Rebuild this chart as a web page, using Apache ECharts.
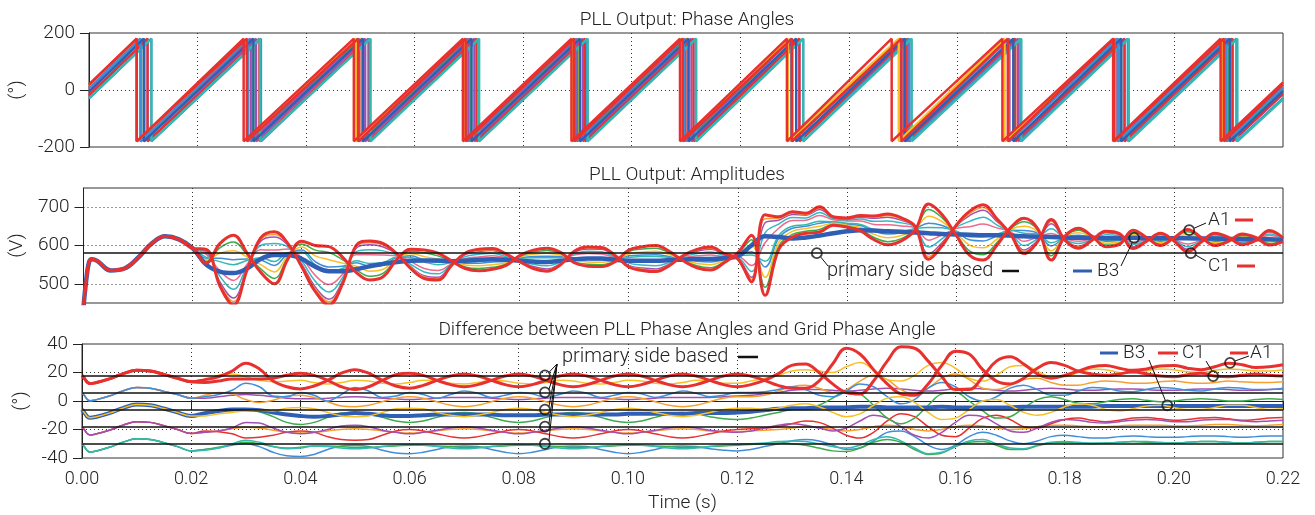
<!DOCTYPE html>
<html>
<head>
<meta charset="utf-8">
<title>PLL Output</title>
<script src="https://cdn.jsdelivr.net/npm/echarts@6/dist/echarts.min.js"></script>
<style>
  html, body { margin: 0; padding: 0; background: #fff; }
  #chart { width: 1315px; height: 515px; }
</style>
</head>
<body>
<div id="chart"></div>
<script>
// sample grid (s): a few extra points during the start-up, then every 2.5 ms
const times = [0, 0.0005, 0.001, 0.0015];
for (let i = 1; i <= 88; i++) times.push(+(i * 0.0025).toFixed(4));

// ---- PLL amplitudes (V) ----
// 0 .. 0.02 s: all lines on top of each other
const ampStart = [440, 510, 556, 564, 560, 535, 540, 568, 605, 624, 616, 593];
const ampA1 = [
  554, 605, 627, 580, 530, 500, 565, 611, 600, 597,
  570, 530, 510, 519, 564, 590, 588, 580, 560, 540,
  534, 538, 548, 574, 588, 593, 582, 555, 546, 545,
  558, 588, 597, 600, 584, 560, 542, 536, 555, 581,
  627, 470, 589, 622, 632, 635, 653, 648, 638, 615,
  602, 612, 640, 708, 680, 628, 575, 562, 600, 646,
  671, 644, 562, 624, 645, 624, 597, 603, 640, 621,
  600, 620, 642, 621, 600, 611, 630, 621, 601, 610];
const ampGreen = [
  558, 594, 609, 576, 539, 514, 569, 604, 588, 582,
  563, 537, 520, 528, 565, 585, 581, 573, 559, 544,
  540, 543, 551, 572, 583, 587, 579, 558, 551, 550,
  560, 584, 591, 593, 580, 561, 547, 542, 557, 579,
  615, 491, 598, 629, 637, 642, 655, 650, 642, 621,
  610, 618, 641, 694, 672, 630, 586, 576, 607, 644,
  662, 641, 573, 623, 640, 623, 601, 606, 635, 620,
  603, 619, 636, 620, 603, 612, 627, 620, 605, 611];
const ampOrange = [
  562, 580, 586, 570, 550, 531, 574, 596, 573, 563,
  554, 546, 533, 538, 567, 579, 571, 564, 557, 549,
  547, 550, 555, 570, 577, 580, 575, 562, 557, 556,
  562, 578, 583, 585, 576, 563, 553, 550, 560, 577,
  600, 517, 608, 637, 644, 650, 658, 653, 647, 629,
  620, 626, 642, 676, 662, 633, 601, 594, 616, 642,
  650, 636, 586, 622, 633, 622, 606, 609, 629, 619,
  607, 618, 629, 618, 607, 613, 624, 619, 610, 612];
const ampBlue = [
  567, 567, 563, 565, 562, 548, 579, 588, 558, 544,
  546, 555, 546, 549, 569, 573, 562, 556, 556, 554,
  554, 557, 559, 568, 571, 572, 571, 566, 564, 563,
  564, 573, 575, 576, 571, 565, 559, 557, 563, 575,
  584, 544, 619, 645, 650, 658, 661, 656, 652, 637,
  630, 633, 644, 658, 652, 636, 615, 612, 625, 640,
  639, 632, 599, 621, 627, 621, 611, 613, 623, 618,
  611, 617, 622, 617, 611, 615, 620, 618, 614, 614];
const ampTeal = [
  569, 558, 550, 561, 568, 558, 582, 583, 549, 532,
  540, 560, 553, 556, 570, 569, 557, 550, 555, 557,
  558, 561, 561, 567, 568, 568, 568, 568, 567, 566,
  565, 569, 571, 571, 569, 566, 562, 561, 565, 574,
  575, 559, 626, 650, 654, 663, 662, 658, 655, 641,
  636, 637, 644, 647, 646, 638, 623, 623, 630, 639,
  632, 630, 607, 620, 623, 620, 614, 615, 620, 617,
  614, 617, 617, 616, 614, 615, 618, 618, 617, 614];
const ampPink = [
  577, 534, 509, 551, 589, 588, 591, 568, 522, 498,
  525, 576, 576, 575, 573, 558, 540, 535, 552, 566,
  570, 573, 568, 564, 557, 554, 561, 575, 579, 578,
  568, 559, 557, 556, 561, 569, 573, 575, 571, 571,
  548, 607, 645, 665, 666, 678, 667, 664, 664, 655,
  654, 651, 647, 614, 628, 644, 649, 656, 646, 636,
  611, 622, 631, 618, 611, 618, 623, 621, 609, 615,
  621, 615, 604, 613, 621, 618, 612, 616, 626, 617];
const ampCyan = [
  582, 520, 486, 546, 600, 605, 596, 560, 507, 479,
  516, 584, 589, 586, 575, 551, 531, 526, 551, 571,
  577, 580, 571, 562, 551, 547, 557, 578, 585, 584,
  570, 554, 549, 547, 556, 571, 579, 583, 574, 569,
  532, 633, 656, 673, 672, 686, 670, 667, 669, 663,
  664, 659, 648, 596, 618, 647, 663, 674, 654, 634,
  600, 618, 644, 616, 605, 616, 628, 625, 603, 613,
  625, 614, 597, 612, 625, 619, 608, 615, 630, 618];
const ampPurple = [
  586, 506, 463, 540, 611, 622, 601, 552, 492, 460,
  507, 593, 602, 596, 577, 545, 521, 517, 549, 576,
  584, 587, 575, 560, 545, 539, 553, 582, 591, 590,
  572, 548, 541, 539, 552, 573, 585, 590, 577, 567,
  517, 659, 666, 681, 679, 694, 673, 670, 674, 671,
  674, 666, 649, 578, 608, 650, 678, 692, 663, 632,
  588, 613, 657, 615, 598, 615, 633, 628, 597, 612,
  629, 613, 590, 610, 629, 620, 605, 614, 635, 619];
const ampYellowLow = [
  588, 500, 454, 538, 616, 629, 603, 548, 486, 453,
  504, 597, 607, 601, 577, 543, 518, 514, 549, 578,
  587, 589, 577, 559, 542, 536, 552, 584, 594, 593,
  573, 546, 538, 535, 550, 573, 588, 593, 578, 566,
  511, 670, 671, 685, 681, 698, 674, 671, 676, 674,
  678, 669, 650, 571, 604, 651, 683, 699, 667, 631,
  584, 612, 663, 615, 596, 615, 635, 630, 594, 612,
  630, 612, 587, 610, 630, 621, 603, 613, 637, 620];
const ampC1 = [
  590, 495, 445, 536, 620, 636, 605, 545, 480, 445,
  500, 600, 612, 605, 578, 540, 514, 510, 548, 580,
  590, 592, 578, 558, 540, 533, 550, 585, 596, 595,
  574, 544, 535, 532, 548, 574, 590, 596, 579, 565,
  505, 680, 675, 688, 684, 701, 675, 672, 678, 677,
  682, 672, 650, 564, 600, 652, 689, 706, 670, 630,
  579, 610, 668, 614, 593, 614, 637, 631, 592, 611,
  632, 612, 584, 609, 632, 621, 602, 613, 639, 620];
const ampB3 = [
  550, 532, 528, 540, 565, 575, 575, 565, 545, 533,
  533, 538, 546, 552, 557, 560, 561, 561, 559, 560,
  563, 564, 563, 560, 558, 557, 560, 564, 566, 566,
  563, 560, 560, 560, 562, 563, 565, 565, 567, 572,
  600, 624, 622, 618, 621, 626, 632, 637, 640, 639,
  637, 636, 634, 632, 630, 629, 628, 627, 627, 626,
  624, 623, 622, 621, 620, 620, 619, 619, 620, 619,
  619, 619, 619, 618, 618, 617, 617, 616, 616, 614];

// ---- difference to grid phase angle (deg) ----
// 0 .. 0.02 s: the lines sit in five bundles
const difStart18 = [18, 15.5, 13, 12.2, 12.8, 15.5, 19, 21.5, 21, 18.7, 16, 13.5];
const difStart6 = [6, 3.5, 1, 0.2, 0.8, 3.5, 7, 9.5, 9, 6.7, 4.5, 2];
const difStartM6 = [-6, -8.5, -11, -11.8, -11.2, -8.5, -5, -2.5, -3, -5.3, -8, -10.5];
const difStartM18 = [-18, -20.5, -23, -23.8, -23.2, -20.5, -17, -14.5, -15, -17.3, -20, -22.8];
const difStartM30 = [-30, -32.5, -35, -35.8, -35.2, -32.5, -29, -26.5, -27, -29.3, -32, -35];
const difA1 = [
  15, 17, 21, 26.5, 22.5, 14, 10, 8.5, 10.5, 14.5,
  19.5, 22, 19.5, 14.5, 10.5, 9, 11, 14.5, 17.5, 19,
  17.5, 14.5, 11.5, 10, 11.5, 14.5, 17.5, 19, 17.5, 14.5,
  11.5, 10, 11.5, 14.5, 17.5, 19, 17.5, 14.5, 11.5, 10,
  11.5, 14.5, 19, 25, 26, 20, 12, 6, 5, 14,
  28, 38, 37, 28, 17, 8, 8, 17, 28, 31,
  26, 19, 16, 18, 21, 24, 25, 23, 21.5, 22.5,
  24.5, 25, 23, 22, 24, 26.5, 25.5, 23.5, 24, 25.5];
const difC1 = [
  13, 14, 15.5, 15.5, 15.5, 16, 18, 19.5, 18, 14.5,
  10, 8, 10, 14.5, 18.5, 19.5, 18, 14.5, 11.5, 10,
  11.5, 14.5, 17.5, 19, 17.5, 14.5, 11.5, 10, 11.5, 14.5,
  17.5, 19, 17.5, 14.5, 11.5, 10, 11.5, 14.5, 17.5, 19,
  17.5, 14.5, 11, 9, 9, 14, 26, 37, 33, 22,
  12, 5, 4, 12, 25, 35, 33, 22, 14, 12,
  16, 23, 27, 25, 21, 19, 18, 19, 20.5, 19,
  17.5, 17, 18.5, 19.5, 17.5, 17, 18, 19, 18, 17.5];
const difYellow18 = [
  15, 18, 19, 17, 14.5, 13.5, 14, 14.5, 13, 12,
  13, 14.5, 14, 12.5, 12, 13, 14.5, 14, 12.5, 12,
  13, 14.5, 14, 12.5, 12, 13, 14.5, 14, 12.5, 12,
  13, 14.5, 14, 12.5, 12, 13, 14.5, 14, 12.5, 12.5,
  14, 16, 18, 21, 22, 21, 20, 24, 27, 22,
  15, 14, 18, 25, 27, 23, 16, 14, 18, 24,
  25, 21, 17, 17, 20, 22.5, 22, 20, 19.5, 21,
  22.5, 22, 20.5, 20, 21.5, 22.5, 22, 21, 21, 22];
const difBlue6 = [
  3, 4.5, 7.5, 12.5, 10, 3.5, 3, 6, 4, 0,
  4.5, 9.5, 7, 2.5, 3.5, 6, 4.5, 2, 4.5, 7,
  5.5, 2.5, 4, 6, 5, 2.5, 4.5, 7, 5.5, 2.5,
  4, 6, 5, 2.5, 4.5, 7, 5.5, 3, 4, 6,
  6, 6.5, 8, 10, 8, 4, 3, 7, 12, 10,
  3, -2, 1, 9, 13, 10, 3, 0, 3, 9,
  11, 8, 4, 4, 7, 9.5, 9, 7, 6.5, 8,
  9.5, 9, 7.5, 7, 8.5, 9.5, 9, 8, 8, 9];
const difOrange6 = [
  4, 6, 5, 1, -1, 0.5, 3.5, 4, 2.5, -0.5,
  -3.5, -4, -3, -0.5, 2, 3, 2, -0.5, -3, -4,
  -3, -0.5, 2, 3, 2, -0.5, -3, -4, -3, -0.5,
  2, 3, 2, -0.5, -3, -4, -3, -0.5, 2, 3,
  3, 4, 7, 10, 11, 9, 6, 8, 14, 18,
  15, 8, 5, 9, 16, 19, 15, 9, 8, 11,
  15, 16, 13, 11, 11, 13, 14, 13.5, 12.5, 12.5,
  13.5, 14, 13, 12.5, 13, 14, 13.5, 13, 13, 13.5];
const difPurple6 = [
  2, 3, 4, 4.5, 4, 3, 2, 1.5, 1.5, 2,
  2.5, 3, 2.5, 2, 1.5, 1, 1.5, 2, 2.5, 2.5,
  2.5, 2, 1.5, 1, 1.5, 2, 2.5, 2.5, 2.5, 2,
  1.5, 1, 1.5, 2, 2.5, 2.5, 2.5, 2.5, 3, 3.5,
  4, 5, 6, 7.5, 8, 8, 7.5, 7, 7.5, 8.5,
  9, 8.5, 7.5, 7, 7.5, 8.5, 9, 8.5, 7.5, 7,
  7.5, 8.5, 9, 8.5, 7.5, 7.5, 8, 8.5, 8.5, 8,
  7.5, 7.5, 8, 8.5, 8.5, 8, 7.5, 7.5, 8, 8.5];
const difB3 = [
  -8.5, -7, -6, -6, -6.5, -8, -9.5, -10.5, -11, -10.5,
  -9.5, -8.5, -9, -10, -10.5, -10.5, -10, -9.5, -9.5, -9.5,
  -9.5, -9.5, -10, -10, -10, -9.5, -9.5, -9.5, -9.5, -9.5,
  -9.5, -9, -9, -9, -9, -9, -8.5, -8.5, -8.5, -8,
  -7.5, -6.5, -5.5, -5, -5, -4.5, -4.5, -4.5, -4, -4,
  -4.5, -4.5, -4.5, -4.5, -4, -4.5, -4.5, -4.5, -4.5, -4.5,
  -4, -4, -4, -4, -4, -4, -3.5, -3.5, -3.5, -3.5,
  -3.5, -3.5, -3.5, -3.5, -3.5, -3.5, -3.5, -3.5, -3.5, -3.5];
const difYellowM6 = [
  -10.5, -9, -8, -7, -6.5, -7, -5, -4.5, -5.5, -8,
  -10.5, -11, -10.5, -8, -5.5, -5, -5.5, -8, -10, -11,
  -10, -8, -6, -5, -6, -8, -10, -11, -10, -8,
  -6, -5, -6, -8, -10, -11, -10, -8, -6, -5,
  -5, -6, -5, -3, -2, -4, -8, -11, -9, -3,
  2, 3, -1, -8, -13, -12, -6, 0, 1, -3,
  -8, -10, -8, -4, -2, -3, -6, -7, -5.5, -3.5,
  -3, -4.5, -6, -6, -4.5, -3, -3, -4.5, -6, -5.5];
const difGreenM6 = [
  -9, -7, -5.5, -5.5, -7.5, -11, -15, -16.5, -15, -11.5,
  -8.5, -8, -9, -11.5, -14, -15, -14, -11.5, -9, -8,
  -9, -11.5, -14, -15, -14, -11.5, -9, -8, -9, -11.5,
  -14, -15, -14, -11.5, -9, -8, -9, -11, -12.5, -13,
  -12, -10, -8, -6, -5, -3, 2, 7, 5, -3,
  -12, -16, -12, -3, 5, 6, 0, -7, -12, -11,
  -5, 1, 3, 1, -1.5, -2, -0.5, 1, 1.5, 0.5,
  -0.5, 0, 1, 1.5, 1, 0, 0, 1, 1.5, 1];
const difPurpleM18 = [
  -22, -21, -19, -15, -15.5, -19, -22, -23, -22, -20,
  -17.5, -17, -18, -20.5, -22, -23, -22, -20.5, -19, -18,
  -19, -20.5, -22, -23, -22, -20.5, -19, -18, -19, -20.5,
  -22, -23, -22, -20.5, -19, -18, -19, -20.5, -21.5, -22,
  -21, -19, -17, -16, -17, -19, -21, -19, -14, -10,
  -12, -18, -24, -26, -22, -15, -10, -11, -16, -21,
  -22, -19, -15, -13, -13.5, -15, -15.5, -14.5, -13.5, -13,
  -13.5, -14.5, -14.5, -13.5, -13, -13, -14, -14.5, -14, -13.5];
const difRedM18 = [
  -21, -21.5, -23, -26, -25.5, -24, -22, -21, -22, -25,
  -27, -27.5, -27, -24, -21, -20, -21, -23, -25, -26,
  -25, -23, -21, -20, -21, -23, -25, -26, -25, -23,
  -21, -20, -21, -23, -25, -26, -25, -23, -21, -20,
  -19.5, -19, -18, -16, -14, -15, -19, -24, -26, -22,
  -14, -9, -11, -18, -24, -25, -19, -12, -10, -13,
  -18, -19, -16, -13, -12, -13.5, -14.5, -13.5, -12, -11.5,
  -12.5, -13.5, -13, -12, -11.5, -12.5, -13.5, -13, -12, -11.5];
const difOrangeM18 = [
  -22, -21, -19.5, -18.5, -19, -20.5, -22, -22.5, -22, -21,
  -20, -19.5, -20, -21, -22, -22.5, -22, -21, -20, -19.5,
  -20, -21, -22, -22.5, -22, -21, -20, -19.5, -20, -21,
  -22, -22.5, -22, -21, -20, -19.5, -20, -21, -21.5, -21.5,
  -21, -20.5, -20, -19, -18, -18.5, -20, -21, -20, -18,
  -17, -18, -20, -21, -20, -18, -17, -17.5, -19, -20,
  -19.5, -18, -17, -17, -17.5, -18, -18, -17.5, -17, -17,
  -17, -17.5, -17.5, -17, -16.5, -16.5, -17, -17.5, -17, -16.5];
const difTealM30 = [
  -34.5, -33, -30, -27.5, -29, -32, -33.5, -33, -31.5, -32,
  -33, -33.5, -33, -32, -31, -30.5, -31, -32, -33, -33.5,
  -33, -32, -31, -30.5, -31, -32, -33, -33.5, -33, -32,
  -31, -30.5, -31, -32, -33, -33.5, -33, -32, -31, -30.5,
  -30, -29.5, -28.5, -28, -28.5, -30, -32, -33, -31, -27,
  -25, -28, -33, -37, -36, -32, -28, -27, -30, -33,
  -33.5, -31, -29, -28.5, -29, -29.5, -29.5, -29, -28.5, -28.5,
  -29, -29.5, -29, -28.5, -28.5, -29, -29.5, -29, -28.5, -28.5];
const difGreenM30 = [
  -34, -32.5, -30.5, -29, -30, -32, -33, -32.5, -31.5, -31.5,
  -32, -32.5, -32.5, -32, -31.5, -31, -31, -31.5, -32, -32.5,
  -32.5, -32, -31.5, -31, -31, -31.5, -32, -32.5, -32.5, -32,
  -31.5, -31, -31, -31.5, -32, -32.5, -32.5, -32, -31.5, -31,
  -30.5, -30, -29.5, -30, -31, -33, -35, -35.5, -33, -29,
  -27, -29, -34, -37.5, -36.5, -32, -29, -28.5, -31, -34,
  -34, -31.5, -29.5, -29, -29.5, -30, -29.5, -29, -28.5, -29,
  -29.5, -29.5, -29, -28.5, -28.5, -29, -29.5, -29, -28.5, -28.5];
const difBlueM30 = [
  -34, -33, -31, -30, -32, -36, -38.5, -39, -37.5, -34,
  -31.5, -31, -32, -34.5, -36.5, -37, -36, -34, -32, -31.5,
  -32, -34, -36, -37, -36, -34, -32, -31.5, -32, -34,
  -36, -37, -36, -34, -32, -31.5, -32, -33.5, -34.5, -35,
  -34, -32, -30, -28, -27, -28, -31, -34, -33, -28,
  -22, -21, -25, -31, -34, -31, -25, -22, -24, -28,
  -30, -28, -25, -24, -25, -26, -26, -25, -24.5, -25,
  -25.5, -25.5, -25, -24.5, -24.5, -25, -25.5, -25, -24.5, -24.5];
const refLevels = [18, 6, -6, -18, -30];

// ---- PLL phase angles: times (s) where each line wraps from 180 to -180 ----
const wrapA1 = [0.0088, 0.0285, 0.0488, 0.0689, 0.0889, 0.1089, 0.1286, 0.1479, 0.1683, 0.1887, 0.2085];
const wrapC1 = [0.0088, 0.0291, 0.0496, 0.0694, 0.0894, 0.1094, 0.1295, 0.1497, 0.1693, 0.1889, 0.2091];
const wrapYellow18 = [0.0088, 0.0291, 0.0492, 0.0693, 0.0892, 0.1093, 0.1288, 0.1492, 0.1687, 0.1889, 0.2088];
const wrapBlue6 = [0.0095, 0.0293, 0.0495, 0.0696, 0.0896, 0.1096, 0.1294, 0.1501, 0.1695, 0.1896, 0.2095];
const wrapOrange6 = [0.0095, 0.0299, 0.0502, 0.0702, 0.0902, 0.1102, 0.1294, 0.1496, 0.1694, 0.1893, 0.2092];
const wrapPurple6 = [0.0095, 0.0298, 0.0498, 0.0699, 0.0899, 0.1099, 0.1296, 0.1495, 0.1696, 0.1895, 0.2096];
const wrapB3 = [0.0101, 0.0303, 0.0505, 0.0705, 0.0905, 0.1105, 0.1303, 0.1503, 0.1703, 0.1902, 0.2102];
const wrapGreenM6 = [0.0101, 0.0303, 0.0504, 0.0704, 0.0904, 0.1104, 0.1303, 0.1509, 0.1706, 0.1899, 0.21];
const wrapPurpleM18 = [0.0108, 0.0308, 0.0509, 0.071, 0.091, 0.111, 0.1309, 0.151, 0.1712, 0.1908, 0.2107];
const wrapRedM18 = [0.0108, 0.0314, 0.0515, 0.0714, 0.0914, 0.1114, 0.1309, 0.1505, 0.1707, 0.1908, 0.2107];
const wrapTealM30 = [0.0115, 0.0315, 0.0519, 0.0719, 0.0919, 0.1119, 0.1316, 0.1516, 0.1718, 0.1916, 0.2116];
const wrapBlueM30 = [0.0115, 0.0317, 0.0517, 0.0718, 0.0918, 0.1118, 0.1316, 0.1512, 0.1716, 0.1914, 0.2114];
const wrapRef = [0.0103, 0.0303, 0.0503, 0.0703, 0.0903, 0.1103, 0.1303, 0.1503, 0.1703, 0.1903, 0.2103];

const C = {
  red: '#e8312f', yellow: '#f6c026', orange: '#f5a030', blue: '#3f8fd8', purple: '#a24fb3',
  dark: '#2f5fb5', green: '#3aac4c', teal: '#35b8ad', cyan: '#35b8c0', pink: '#ef6a8c'
};
const FONT = 'Roboto, "Liberation Sans", sans-serif';

function pts(vals) { return vals.map((v, i) => [times[i], v]); }

function ramp(start, wraps, end) {
  const p = [[0, start]];
  wraps.forEach(w => { p.push([w, 180]); p.push([w, -180]); });
  p.push([0.22, end]);
  return p;
}

function line(grid, data, color, width, extra) {
  return Object.assign({
    type: 'line', xAxisIndex: grid, yAxisIndex: grid, data: data,
    symbol: 'none', showSymbol: false, smooth: grid ? 0.4 : false,
    lineStyle: { color: color, width: width }, silent: true
  }, extra || {});
}

const dotted = { type: [1, 3], color: '#333', width: 1 };
const solid = { type: 'solid', color: '#111', width: 1.5 };
const TW = 1.5; // thin line width

const series = [
  // phase angles
  line(0, ramp(-6, wrapRef, -6), '#111', 1),
  line(0, ramp(5, wrapOrange6, 14), C.orange, 2.3),
  line(0, ramp(5, wrapPurple6, 8), C.purple, 2.3),
  line(0, ramp(-7, wrapGreenM6, 0), C.green, 2.3),
  line(0, ramp(-18, wrapPurpleM18, -15), C.purple, 2.3),
  line(0, ramp(-19, wrapRedM18, -13), C.red, 2.3),
  line(0, ramp(-30, wrapBlueM30, -28), C.blue, 2.3),
  line(0, ramp(-29, wrapTealM30, -33), C.teal, 2.3),
  line(0, ramp(6, wrapBlue6, 10), C.blue, 2.3),
  line(0, ramp(-6, wrapB3, -4), C.dark, 2.3),
  line(0, ramp(17, wrapYellow18, 24), C.yellow, 2.3),
  line(0, ramp(18, wrapC1, 20), C.red, 2.5),
  line(0, ramp(20, wrapA1, 27), C.red, 2.5),

  // amplitudes
  line(1, pts(ampStart.concat(ampBlue)), C.blue, TW, {
    markLine: {
      silent: true, symbol: 'none', label: { show: false }, animation: false,
      data: [
        { yAxis: 500, lineStyle: dotted }, { yAxis: 600, lineStyle: dotted },
        { yAxis: 700, lineStyle: dotted }, { yAxis: 580, lineStyle: solid }
      ]
    }
  }),
  line(1, pts(ampStart.concat(ampTeal)), C.teal, TW),
  line(1, pts(ampStart.concat(ampPink)), C.pink, TW),
  line(1, pts(ampStart.concat(ampCyan)), C.cyan, TW),
  line(1, pts(ampStart.concat(ampOrange)), C.yellow, TW),
  line(1, pts(ampStart.concat(ampPurple)), C.purple, TW),
  line(1, pts(ampStart.concat(ampYellowLow)), C.orange, TW),
  line(1, pts(ampStart.concat(ampGreen)), C.green, TW),
  line(1, pts(ampStart.concat(ampB3)), C.dark, 4.5),
  line(1, pts(ampStart.concat(ampC1)), C.red, 3),
  line(1, pts(ampStart.concat(ampA1)), C.red, 3),

  // phase differences
  line(2, pts(difStartM30.concat(difBlueM30)), C.blue, TW),
  line(2, pts(difStartM30.concat(difGreenM30)), C.green, TW),
  line(2, pts(difStartM30.concat(difTealM30)), C.teal, TW),
  line(2, pts(difStartM18.concat(difOrangeM18)), C.orange, TW),
  line(2, pts(difStartM18.concat(difRedM18)), C.red, TW),
  line(2, pts(difStartM18.concat(difPurpleM18)), C.purple, TW),
  line(2, pts(difStartM6.concat(difGreenM6)), C.green, TW),
  line(2, pts(difStart6.concat(difPurple6)), C.purple, TW),
  line(2, pts(difStart6.concat(difOrange6)), C.orange, TW),
  line(2, pts(difStart6.concat(difBlue6)), C.blue, TW),
  line(2, pts(difStart18.concat(difYellow18)), C.yellow, TW, {
    markLine: {
      silent: true, symbol: 'none', label: { show: false }, animation: false,
      data: refLevels.map(v => ({ yAxis: v, lineStyle: solid }))
    }
  }),
  line(2, pts(difStartM6.concat(difB3)), C.dark, 4),
  line(2, pts(difStartM6.concat(difYellowM6)), C.yellow, TW),
  line(2, pts(difStart18.concat(difC1)), C.red, 3),
  line(2, pts(difStart18.concat(difA1)), C.red, 3)
];

// marker circles
const circle = {
  type: 'scatter', symbol: 'circle', symbolSize: 10, silent: true, z: 5,
  itemStyle: { color: 'rgba(255,255,255,0)', borderColor: '#111', borderWidth: 1.8 }
};
const ampMarks = [[0.1345, 580], [0.1927, 620], [0.2028, 640], [0.2031, 580]];
const difMarks = [[0.0848, 18], [0.0848, 6], [0.0848, -6], [0.0848, -18], [0.0848, -30],
  [0.1988, -3], [0.2072, 17.5], [0.2103, 26.7]];
series.push(Object.assign({ xAxisIndex: 1, yAxisIndex: 1, data: ampMarks }, circle));
series.push(Object.assign({ xAxisIndex: 2, yAxisIndex: 2, data: difMarks }, circle));

const tickText = { color: '#222', fontSize: 19, fontFamily: FONT, fontWeight: 300 };
const titleText = { color: '#222', fontSize: 19, fontFamily: FONT, fontWeight: 300 };

function xAxis(i) {
  const last = i === 2;
  return {
    type: 'value', gridIndex: i, min: 0, max: 0.22, interval: 0.02,
    axisLine: { show: last, lineStyle: { color: '#222', width: 1 } },
    axisTick: { show: last, inside: false, length: 9, lineStyle: { color: '#222' } },
    axisLabel: {
      show: last, margin: 12, fontSize: 18, formatter: v => v.toFixed(2),
      color: '#222', fontFamily: FONT, fontWeight: 300
    },
    splitLine: { show: true, showMinLine: false, showMaxLine: false, lineStyle: dotted },
    name: last ? 'Time (s)' : '', nameLocation: 'middle', nameGap: 36,
    nameTextStyle: { color: '#222', fontSize: 19, fontFamily: FONT, fontWeight: 300 }
  };
}

function yAxis(i, min, max, interval, name, custom) {
  const ax = {
    type: 'value', gridIndex: i, min: min, max: max, interval: interval,
    axisLine: { show: true, lineStyle: { color: '#222', width: 1 } },
    axisTick: { show: true, inside: false, length: 9, lineStyle: { color: '#222' } },
    axisLabel: Object.assign({ margin: 14 }, tickText),
    splitLine: { show: !custom, showMinLine: false, showMaxLine: false, lineStyle: dotted },
    name: name, nameLocation: 'middle', nameGap: 51,
    nameTextStyle: { color: '#222', fontSize: 19, fontFamily: FONT, fontWeight: 300 }
  };
  if (custom) {
    ax.axisTick.customValues = custom;
    ax.axisLabel.customValues = custom;
  }
  return ax;
}

const grid = { left: 82, right: 32, show: true, borderColor: '#333', borderWidth: 1, backgroundColor: 'transparent' };

const chart = echarts.init(document.getElementById('chart'));
chart.setOption({
  animation: false,
  backgroundColor: '#fff',
  title: [
    { text: 'PLL Output: Phase Angles', left: 682, top: 6, textAlign: 'center', textStyle: titleText },
    { text: 'PLL Output: Amplitudes', left: 682, top: 161, textAlign: 'center', textStyle: titleText },
    { text: 'Difference between PLL Phase Angles and Grid Phase Angle', left: 682, top: 316, textAlign: 'center', textStyle: titleText }
  ],
  grid: [
    Object.assign({ top: 33, height: 114 }, grid),
    Object.assign({ top: 188, height: 115 }, grid),
    Object.assign({ top: 344, height: 114 }, grid)
  ],
  xAxis: [xAxis(0), xAxis(1), xAxis(2)],
  yAxis: [
    yAxis(0, -200, 200, 200, '(°)'),
    yAxis(1, 450, 750, 50, '(V)', [500, 600, 700]),
    yAxis(2, -40, 40, 20, '(°)')
  ],
  series: series
});

// annotations: leader lines, labels and legend dashes
function px(g, p) { return chart.convertToPixel({ gridIndex: g }, p); }
function seg(x1, y1, x2, y2, color, w) {
  return { type: 'line', silent: true, z: 10, shape: { x1, y1, x2, y2 }, style: { stroke: color || '#111', lineWidth: w || 1 } };
}
function label(text, x, y, size) {
  return { type: 'text', silent: true, z: 10, x: x, y: y,
    style: { text: text, fill: '#222', font: '300 ' + (size || 19) + 'px ' + FONT, verticalAlign: 'middle' } };
}

const g = [];
let p = px(1, ampMarks[0]);
g.push(seg(p[0] + 4, p[1] + 4, 828, 266), label('primary side based', 827, 271, 20), seg(1002, 271, 1019, 271, '#111', 2.5));
p = px(1, ampMarks[1]);
g.push(seg(1073, 271, 1092, 271, C.dark, 3), label('B3', 1097, 271), seg(1121, 266, p[0] - 2, p[1] + 5));
p = px(1, ampMarks[2]);
g.push(label('A1', 1208, 220), seg(1235, 220, 1253, 220, C.red, 3), seg(p[0] + 5, p[1] - 2, 1206, 223));
p = px(1, ampMarks[3]);
g.push(label('C1', 1208, 266), seg(1237, 266, 1255, 266, C.red, 3), seg(p[0] + 5, p[1] + 2, 1206, 261));

for (let i = 0; i < 5; i++) {
  p = px(2, difMarks[i]);
  g.push(seg(p[0] + 4, p[1] - 3, 557, 364));
}
g.push(label('primary side based', 562, 357, 20), seg(738, 357, 758, 357, '#111', 2.5));
g.push(seg(1100, 353, 1118, 353, C.dark, 3), label('B3', 1123, 353));
g.push(seg(1158, 353, 1178, 353, C.red, 3), label('C1', 1182, 353));
g.push(seg(1230, 353, 1248, 353, C.red, 3), label('A1', 1250, 353));
p = px(2, difMarks[5]);
g.push(seg(1149, 360, p[0] - 2, p[1] - 5));
p = px(2, difMarks[6]);
g.push(seg(1206, 361, p[0] - 1, p[1] - 5));
p = px(2, difMarks[7]);
g.push(seg(p[0] + 5, p[1] - 2, 1249, 356));

chart.setOption({ graphic: g });
</script>
</body>
</html>
